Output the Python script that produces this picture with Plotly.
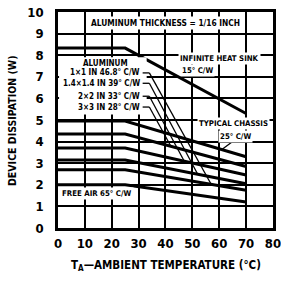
import plotly.graph_objects as go
import numpy as np

# ---- data ----
temps = [0, 25, 70]
infinite_sink = [8.33, 8.33, 5.3]
chassis = [4.95, 4.95, 3.3]
al_3x3 = [4.35, 4.35, 2.85]
al_2x2 = [3.7, 3.7, 2.45]
al_14x14 = [3.15, 3.15, 2.05]
al_1x1 = [2.7, 2.7, 1.75]
free_air = [2.0, 2.0, 1.2]

x_ticks = [0, 10, 20, 30, 40, 50, 60, 70, 80]
y_ticks = [0, 1, 2, 3, 4, 5, 6, 7, 8, 9, 10]

FONT = "Liberation Sans Narrow, Arial Narrow, DejaVu Sans Condensed, sans-serif"

fig = go.Figure()
for ys in [infinite_sink, chassis, al_3x3, al_2x2, al_14x14, al_1x1, free_air]:
    fig.add_trace(go.Scatter(x=temps, y=ys, mode="lines",
                             line=dict(color="black", width=3),
                             showlegend=False, hoverinfo="skip"))

def at(curve, x):
    return float(np.interp(x, temps, curve))

shapes = []
shapes.append(dict(type="rect", xref="x", yref="y", x0=0.4, x1=33.0, y0=5.25, y1=7.9,
                   fillcolor="white", line=dict(width=0), layer="above"))
leaders = [
    (7.18, al_1x1, 57),
    (6.70, al_14x14, 52),
    (6.10, al_2x2, 47),
    (5.60, al_3x3, 42),
]
for ly, curve, xe in leaders:
    shapes.append(dict(type="line", xref="x", yref="y", x0=31.5, y0=ly, x1=34.0, y1=ly,
                       line=dict(color="black", width=1.3), layer="above"))
    shapes.append(dict(type="line", xref="x", yref="y", x0=34.0, y0=ly, x1=xe, y1=at(curve, xe),
                       line=dict(color="black", width=1.3), layer="above"))
shapes.append(dict(type="line", xref="x", yref="y", x0=65.0, y0=4.0, x1=61, y1=at(chassis, 61),
                   line=dict(color="black", width=1.3), layer="above"))

annotations = []
def txt(x, y, s, size=8, xanchor="center", bg="white"):
    d = dict(x=x, y=y, xref="x", yref="y", text="<b>" + s + "</b>",
             showarrow=False, xanchor=xanchor, yanchor="middle",
             font=dict(family=FONT, size=size, color="black"), borderpad=1)
    if bg:
        d["bgcolor"] = bg
    annotations.append(d)

txt(40, 9.5, "ALUMINUM THICKNESS = 1/16 INCH", size=8.3)
txt(17.5, 7.62, "ALUMINUM", size=8, bg=None)
txt(31.2, 7.18, "1×1 IN 46.8° C/W", xanchor="right", size=8, bg=None)
txt(31.2, 6.70, "1.4×1.4 IN 39° C/W", xanchor="right", size=8, bg=None)
txt(31.2, 6.10, "2×2 IN 33° C/W", xanchor="right", size=8, bg=None)
txt(31.2, 5.60, "3×3 IN 28° C/W", xanchor="right", size=8, bg=None)
txt(60, 7.85, "INFINITE HEAT SINK", size=7.8)
txt(45.5, 7.3, "15° C/W", xanchor="left", size=7.8)
txt(65.3, 4.85, "TYPICAL CHASSIS", size=7.8)
txt(66.0, 4.25, "25° C/W", size=7.8)
txt(0.6, 1.6, "FREE AIR 65° C/W", xanchor="left", size=7.8)

annotations.append(dict(x=0.5, y=-0.172, xref="paper", yref="paper",
                        text="<b>T<sub>A</sub>—AMBIENT TEMPERATURE (°C)</b>",
                        showarrow=False, xanchor="center", yanchor="middle",
                        font=dict(family=FONT, size=11.5, color="black")))
annotations.append(dict(x=-0.214, y=0.5, xref="paper", yref="paper",
                        text="<b>DEVICE DISSIPATION (W)</b>", textangle=-90,
                        showarrow=False, xanchor="center", yanchor="middle",
                        font=dict(family=FONT, size=10.5, color="black")))

fig.update_layout(
    width=281, height=283,
    margin=dict(l=58, r=8, t=12, b=55, autoexpand=False),
    paper_bgcolor="white", plot_bgcolor="white",
    shapes=shapes, annotations=annotations,
    xaxis=dict(range=[0, 80.02], tickvals=x_ticks, ticktext=[str(v) for v in x_ticks],
               showgrid=True, gridcolor="black", gridwidth=1.5,
               showline=True, linecolor="black", linewidth=2.5, mirror=True,
               zeroline=False, ticks="", ticklabelstandoff=2, automargin=False,
               ticklabeloverflow="allow",
               tickfont=dict(family=FONT, size=13, color="black", weight="bold")),
    yaxis=dict(range=[0, 10], tickvals=y_ticks, ticktext=[str(v) for v in y_ticks],
               showgrid=True, gridcolor="black", gridwidth=1.5,
               showline=True, linecolor="black", linewidth=2.5, mirror=True,
               zeroline=False, ticks="", ticklabelstandoff=9, automargin=False,
               ticklabeloverflow="allow",
               tickfont=dict(family=FONT, size=13, color="black", weight="bold")),
)

fig.write_html("out.html", config={"displayModeBar": False},
               post_script="document.body.style.margin='0';document.body.style.overflow='hidden';")
